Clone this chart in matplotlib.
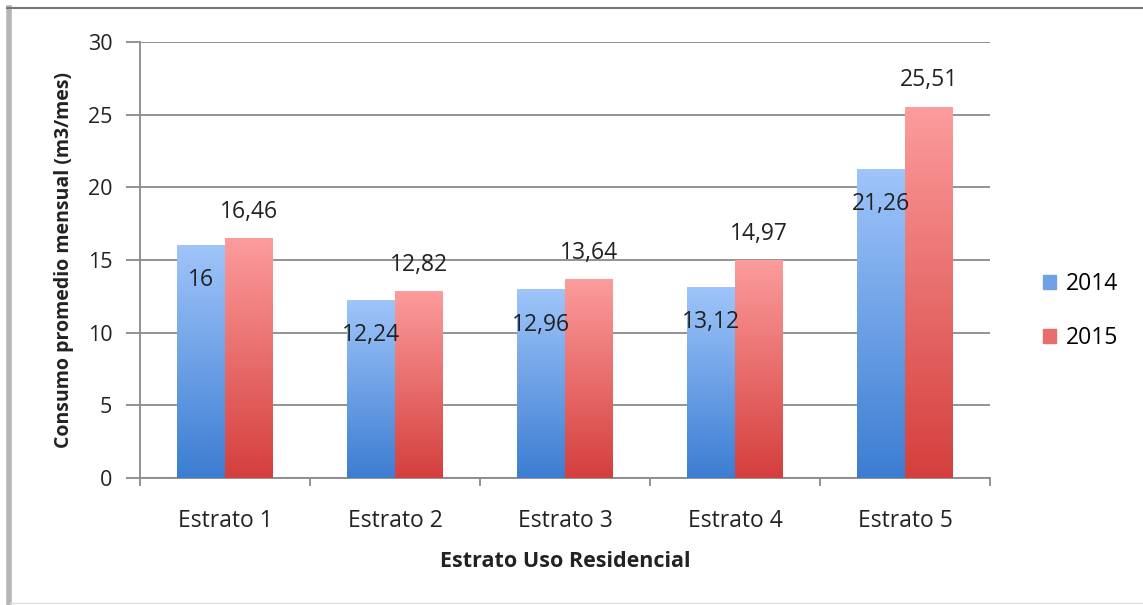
import matplotlib.pyplot as plt
import numpy as np
from matplotlib.colors import LinearSegmentedColormap
from matplotlib.patches import Rectangle
from matplotlib.lines import Line2D

plt.rcParams['font.family'] = ['Open Sans', 'DejaVu Sans']

categories = ['Estrato 1', 'Estrato 2', 'Estrato 3', 'Estrato 4', 'Estrato 5']
years = ['2014', '2015']
vals_2014 = [16, 12.24, 12.96, 13.12, 21.26]
vals_2015 = [16.46, 12.82, 13.64, 14.97, 25.51]

blue_cmap = LinearSegmentedColormap.from_list('b', ['#3c7dd2', '#9fc5fa'])
red_cmap = LinearSegmentedColormap.from_list('r', ['#d43f3d', '#fc9c9c'])

def fmt(v):
    s = ('%.2f' % v).rstrip('0').rstrip('.')
    return s.replace('.', ',')

fig = plt.figure(figsize=(11.43, 6.05), dpi=100)
ax = fig.add_axes([140/1143, 1 - 478/605, 850/1143, 436/605])

x = np.arange(len(categories))
w = 0.28
grad = np.linspace(0, 1, 256).reshape(-1, 1)

def gradient_bars(xs, vals, cmap):
    bars = ax.bar(xs, vals, w, color='none', edgecolor='none', zorder=3)
    for b in bars:
        x0, y0 = b.get_x(), b.get_y()
        ax.imshow(grad, cmap=cmap, origin='lower', aspect='auto',
                  extent=[x0, x0 + b.get_width(), y0, y0 + b.get_height()],
                  zorder=3)
    return bars

b1 = gradient_bars(x - w/2, vals_2014, blue_cmap)
b2 = gradient_bars(x + w/2, vals_2015, red_cmap)

# data labels
for b, v in zip(b1, vals_2014):
    ax.text(b.get_x() + b.get_width()/2, v - 2.4, fmt(v), ha='center', va='center',
            fontsize=16.5, color='#222222', zorder=5)
for b, v in zip(b2, vals_2015):
    ax.text(b.get_x() + b.get_width()/2, v + 1.85, fmt(v), ha='center', va='center',
            fontsize=16.5, color='#222222', zorder=5)

ax.set_xlim(-0.5, len(categories) - 0.5)
ax.set_ylim(0, 30)
ax.set_yticks(range(0, 31, 5))
ax.yaxis.grid(True, color='#8a8a8a', linewidth=1.3, zorder=0)
ax.set_axisbelow(True)

ax.set_xticks(x)
ax.set_xticklabels(categories, fontsize=16.5, color='#222222')
ax.set_xticks(np.arange(-0.5, len(categories)), minor=True)
ax.tick_params(axis='x', which='major', length=0, pad=22)
ax.tick_params(axis='x', which='minor', length=6, color='#8a8a8a', width=1.3)
ax.tick_params(axis='y', length=10, color='#8a8a8a', width=1.3, labelsize=15.5,
               labelcolor='#222222', pad=10)

for s in ['top', 'right']:
    ax.spines[s].set_visible(False)
for s in ['left', 'bottom']:
    ax.spines[s].set_color('#8a8a8a')
    ax.spines[s].set_linewidth(1.3)

ax.set_ylabel('Consumo promedio mensual (m3/mes)', fontsize=14, fontweight='bold',
              color='#222222', labelpad=10)
ax.set_xlabel('Estrato Uso Residencial', fontsize=15.5, fontweight='bold',
              color='#222222', labelpad=13)

handles = [Rectangle((0, 0), 1, 1, color=blue_cmap(0.5)),
           Rectangle((0, 0), 1, 1, color=red_cmap(0.5))]
fig.legend(handles, years, loc='center left', bbox_to_anchor=(1022/1143, 1 - 311/605),
           frameon=False, fontsize=16.5, handlelength=0.6, handleheight=0.6,
           labelspacing=1.3, handletextpad=0.4)

# outer frame of the embedded chart
fig.add_artist(Line2D([9/1143, 9/1143], [0.003, 1 - 8/605], color='#b5b5b5', linewidth=4,
                      transform=fig.transFigure))
fig.add_artist(Line2D([7/1143, 1], [1 - 8/605, 1 - 8/605], color='#777777', linewidth=1.5,
                      transform=fig.transFigure))
fig.add_artist(Line2D([10/1143, 1], [0.003, 0.003], color='#dddddd', linewidth=1,
                      transform=fig.transFigure))

fig.savefig('out.png', dpi=100)
